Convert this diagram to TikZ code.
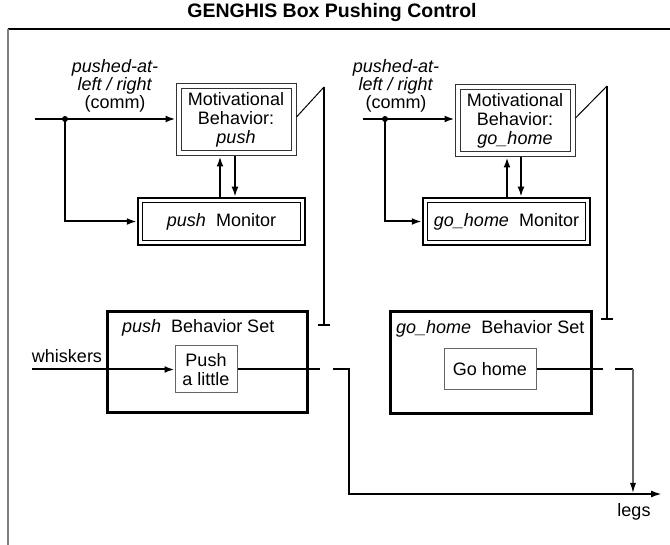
\documentclass[tikz,border=0pt]{standalone}
\usepackage{fontspec}
\setmainfont{Liberation Sans}
\usetikzlibrary{arrows.meta}
\begin{document}
\begin{tikzpicture}[x=1pt,y=-1pt,
  font=\fontsize{18}{19}\selectfont,
  conn/.style={line width=2pt,-{Latex[length=10pt,width=7pt]}},
  plain/.style={line width=2pt},
  motbox/.style={draw=black!80,line width=1pt,
     minimum width=120pt,minimum height=72pt,inner sep=0pt,outer sep=0.5pt,align=center},
  inline/.style={draw=black!80,line width=1pt},
  monbox/.style={draw=black,line width=2.5pt,inner sep=0pt,outer sep=1.25pt,align=center},
  setbox/.style={draw=black,line width=3pt,inner sep=0pt,outer sep=1.5pt},
  actbox/.style={draw=black!60,line width=1pt,inner sep=0pt,outer sep=0.5pt,align=center},
  lab/.style={align=center,inner sep=0pt,font=\fontsize{18}{16}\selectfont}]
\useasboundingbox (0,0) rectangle (670,545);
% title and frame
\node[font=\fontsize{19.5}{20}\selectfont\bfseries] (title) at (332,13) {GENGHIS Box Pushing Control};
\coordinate (fr) at (670,29);
\coordinate (fl) at (8,29);
\coordinate (fb) at (8,545);
\draw[line width=1.2pt] (fr) -- (fl);
\draw[gray,line width=2pt] (fl) -- (fb);

% ---------- left: push ----------
\node[motbox] (mot1) at (236,120) {Motivational\\Behavior:\\\textit{push}};
\draw[inline] ([xshift=5.5pt,yshift=-5.5pt]mot1.north west) rectangle ([xshift=-5.5pt,yshift=5.5pt]mot1.south east);
\node[monbox,minimum width=167pt,minimum height=47pt] (mon1) at (221.5,221.5) {\textit{push}\ \ Monitor};
\draw[line width=1pt] ([xshift=5.5pt,yshift=-5.5pt]mon1.north west) rectangle ([xshift=-5.5pt,yshift=5.5pt]mon1.south east);
\node[lab] (l1) at (115,86) {\textit{pushed-at-}\\\textit{left / right}\\(comm)};
\coordinate (in1) at (35,119);
\coordinate (j1) at (65,119);
\draw[conn] (in1) -- (in1 -| mot1.west);
\fill (j1) circle (3pt);
\draw[conn] (j1) |- (mon1.west);
\coordinate (u1) at (220,0);
\coordinate (d1) at (235,0);
\draw[conn] (u1 |- mon1.north) -- (u1 |- mot1.south);
\draw[conn] (d1 |- mot1.south) -- (d1 |- mon1.north);
\coordinate (t1) at (324,87);
\coordinate (b1) at (324,326);
\draw[line width=1pt] ([yshift=3pt]mot1.east) -- (t1);
\draw[line width=2pt,-{Bar[width=12pt]}] (t1) -- (b1);

% ---------- right: go_home ----------
\node[motbox] (mot2) at (515,121) {Motivational\\Behavior:\\\textit{go\_home}};
\draw[inline] ([xshift=5.5pt,yshift=-5.5pt]mot2.north west) rectangle ([xshift=-5.5pt,yshift=5.5pt]mot2.south east);
\node[monbox,minimum width=167pt,minimum height=47pt] (mon2) at (506.5,221.5) {\textit{go\_home}\ \ Monitor};
\draw[line width=1pt] ([xshift=5.5pt,yshift=-5.5pt]mon2.north west) rectangle ([xshift=-5.5pt,yshift=5.5pt]mon2.south east);
\node[lab] (l2) at (396,86) {\textit{pushed-at-}\\\textit{left / right}\\(comm)};
\coordinate (in2) at (363,119);
\coordinate (j2) at (385,119);
\draw[conn] (in2) -- (in2 -| mot2.west);
\fill (j2) circle (3pt);
\draw[conn] (j2) |- (mon2.west);
\coordinate (u2) at (507,0);
\coordinate (d2) at (521,0);
\draw[conn] (u2 |- mon2.north) -- (u2 |- mot2.south);
\draw[conn] (d2 |- mot2.south) -- (d2 |- mon2.north);
\coordinate (t2) at (607,86);
\coordinate (b2) at (607,320);
\draw[line width=1pt] ([yshift=3pt]mot2.east) -- (t2);
\draw[line width=2pt,-{Bar[width=12pt]}] (t2) -- (b2);

% ---------- behavior sets ----------
\node[setbox,minimum width=200pt,minimum height=101pt] (bs1) at (207,362.5) {};
\node[anchor=base west,inner sep=0pt] (bs1l) at (122,333) {\textit{push}\ \ Behavior Set};
\node[actbox,minimum width=62pt,minimum height=47pt,font=\fontsize{18}{19}\selectfont] (pl) at (206,369.5) {Push\\a little};

\node[setbox,minimum width=201pt,minimum height=102pt] (bs2) at (490.5,363) {};
\node[anchor=base west,inner sep=0pt] (bs2l) at (396,334) {\textit{go\_home}\ \ Behavior Set};
\node[actbox,minimum width=92pt,minimum height=41pt] (gh) at (490,369.5) {Go home};

% whiskers input
\coordinate (w0) at (32,369.5);
\node[inner sep=0pt] (wl) at (67,356) {whiskers};
\draw[conn] (w0) -- (pl.west);

% outputs
\coordinate (o1a) at (320,369.5);
\coordinate (o1b) at (333,369.5);
\coordinate (o1c) at (349,369.5);
\coordinate (o1d) at (349,494);
\coordinate (legsend) at (662,494);
\draw[plain] (pl.east) -- (o1a);
\draw[line width=2pt,-{Latex[length=11pt,width=7pt]}] (o1b) -- (o1c) -- (o1d) -- (legsend);

\coordinate (o2a) at (603,369.5);
\coordinate (o2b) at (615,369.5);
\coordinate (o2c) at (633,369.5);
\coordinate (o2d) at (633,493);
\draw[plain] (gh.east) -- (o2a);
\draw[plain] (o2b) -- (o2c);
\draw[black!60,line width=1.2pt,-{Latex[length=10pt,width=6pt,black]}] (o2c) -- (o2d);
\node[inner sep=0pt] (legs) at (634,512) {legs};
\end{tikzpicture}
\end{document}
